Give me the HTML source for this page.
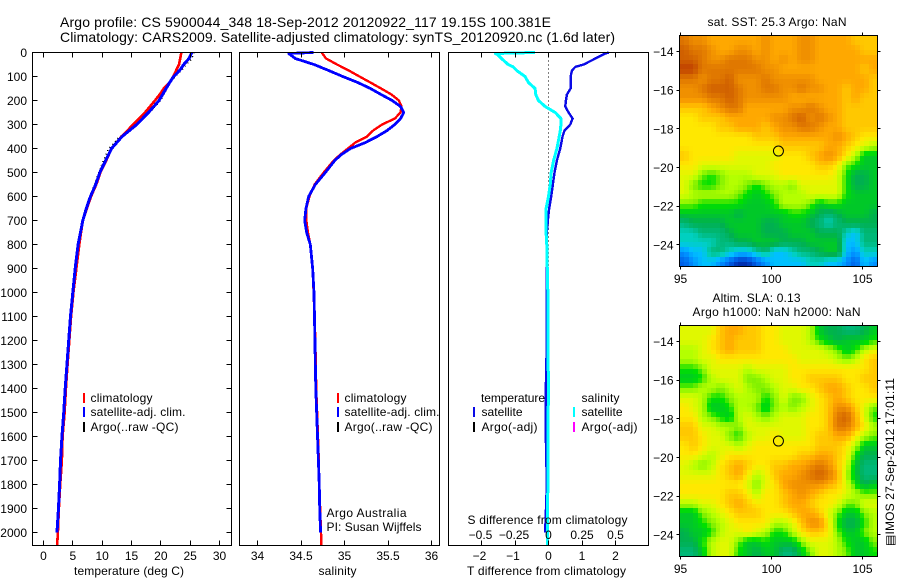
<!DOCTYPE html>
<html>
<head>
<meta charset="utf-8">
<title>Argo profile</title>
<style>
html,body{margin:0;padding:0;background:#fff;}
svg{display:block;}
text{font-family:"Liberation Sans","DejaVu Sans",sans-serif;fill:#000;font-size:12px;}
.t{font-size:14px;}
</style>
</head>
<body>
<svg id="chart" xmlns="http://www.w3.org/2000/svg" width="900" height="580" viewBox="0 0 900 580">
<rect x="0" y="0" width="900" height="580" fill="#fff"/>
<g id="layer-maps"></g>
<g id="layer-lines"></g>
<g id="layer-axes"></g>
<text class="t" x="60" y="27" textLength="491">Argo profile: CS 5900044_348 18-Sep-2012 20120922_117 19.15S 100.381E</text>
<text class="t" x="60" y="42" textLength="555">Climatology: CARS2009. Satellite-adjusted climatology: synTS_20120920.nc (1.6d later)</text>
<text x="74" y="575" textLength="110">temperature (deg C)</text>
<text x="318.5" y="575" textLength="38">salinity</text>
<text x="467" y="575" textLength="159">T difference from climatology</text>
<text x="467.5" y="524" textLength="160">S difference from climatology</text>

<rect x="83" y="393" width="2" height="10" fill="#f00"/>
<rect x="83" y="407" width="2" height="10" fill="#00f"/>
<rect x="83" y="422" width="2" height="10" fill="#000"/>
<text x="90.5" y="402" textLength="62">climatology</text>
<text x="90.5" y="416" textLength="95">satellite-adj. clim.</text>
<text x="90.5" y="431" textLength="88">Argo(..raw -QC)</text>

<rect x="337" y="393" width="2" height="10" fill="#f00"/>
<rect x="337" y="407" width="2" height="10" fill="#00f"/>
<rect x="337" y="422" width="2" height="10" fill="#000"/>
<text x="344.5" y="402" textLength="62">climatology</text>
<text x="344.5" y="416" textLength="95">satellite-adj. clim.</text>
<text x="344.5" y="431" textLength="88">Argo(..raw -QC)</text>
<text x="326.5" y="517" textLength="80">Argo Australia</text>
<text x="326.5" y="531" textLength="95">PI: Susan Wijffels</text>

<text x="481" y="402" textLength="64">temperature</text>
<text x="481.5" y="416" textLength="41">satellite</text>
<text x="481.5" y="431" textLength="56">Argo(-adj)</text>
<text x="581.5" y="402" textLength="38">salinity</text>
<text x="581.5" y="416" textLength="41">satellite</text>
<text x="581.5" y="431" textLength="56">Argo(-adj)</text>
<rect x="473" y="407" width="2" height="10" fill="#0a0ae6"/>
<rect x="473" y="422" width="2" height="10" fill="#000"/>
<rect x="573" y="407" width="2" height="10" fill="#0ff"/>
<rect x="573" y="422" width="2" height="10" fill="#f0f"/>

<text x="707.5" y="26" textLength="139">sat. SST: 25.3 Argo: NaN</text>
<text x="712.5" y="302" textLength="88">Altim. SLA: 0.13</text>
<text x="692.5" y="316" textLength="168">Argo h1000: NaN h2000: NaN</text>
<text transform="translate(894 546) rotate(-90)" x="0" y="0" textLength="168">▤IMOS 27-Sep-2012 17:01:11</text>
</svg>

<script>
// ---------- profile data (depth in m) ----------
var tempDepths = [0,25,50,75,100,125,150,175,200,250,300,350,400,450,500,550,600,650,700,750,800,900,1000,1100,1200,1300,1400,1500,1600,1700,1800,1900,2000,2054];
var tempClim = [23.5,23.3,23.1,22.6,22.1,21.5,20.5,19.8,19.0,17.3,15.3,13.3,11.6,10.7,9.7,9.0,8.1,7.4,6.7,6.4,6.1,5.6,5.1,4.7,4.4,4.1,3.82,3.6,3.25,3.13,2.85,2.62,2.45,2.33];
var tempSat = [25.3,24.8,23.9,23.2,22.2,21.5,20.9,20.3,19.7,17.9,15.9,13.4,11.6,10.6,9.6,8.9,8.0,7.3,6.7,6.3,5.9,5.4,5.0,4.6,4.3,4.0,3.7,3.45,3.15,2.9,2.75,2.55,2.3];
var tempArgo = [25.7,25.3,24.4,23.5,22.5,21.6,21.1,20.5,20.0,18.1,15.8,13.0,11.1,10.2,9.4,8.7,7.9,7.2,6.6,6.2,5.9,5.5,5.1,4.7,4.4,4.1,3.8,3.55,3.25,3.0,2.85,2.65,2.4];

var salDepths = [0,4,25,50,75,100,125,150,175,200,225,250,275,300,325,350,375,400,425,450,500,550,600,650,700,750,800,900,1000,1100,1200,1300,1400,1500,1600,1700,1800,1900,2000,2054];
var salClim = [34.741,34.745,34.788,34.914,35.049,35.172,35.298,35.42,35.54,35.625,35.655,35.644,35.579,35.433,35.33,35.26,35.125,35.04,34.953,34.876,34.761,34.657,34.596,34.561,34.561,34.58,34.607,34.634,34.645,34.655,34.665,34.67,34.675,34.685,34.695,34.705,34.71,34.72,34.73,34.735];
var salSat = [34.645,34.358,34.434,34.65,34.818,34.98,35.152,35.298,35.42,35.548,35.644,35.682,35.644,35.578,35.49,35.375,35.241,35.068,34.965,34.888,34.78,34.665,34.588,34.557,34.542,34.565,34.607,34.634,34.649,34.655,34.66,34.665,34.67,34.68,34.69,34.70,34.71,34.715,34.725];

var diffDepths = [0,4,11,25,50,60,75,100,125,150,175,200,225,250,275,300,325,350,400,450,500,550,600,650,700,750,800,1000,1200,1400,1600,1800,2000,2054];
var diffTemp = [1.80,1.70,1.60,1.40,1.05,0.80,0.70,0.66,0.66,0.66,0.55,0.52,0.50,0.60,0.72,0.65,0.48,0.42,0.35,0.25,0.18,0.13,0.08,0.02,-0.02,-0.05,-0.06,-0.06,-0.05,-0.08,-0.08,-0.05,-0.10];
var diffSal = [-0.100,-0.396,-0.376,-0.351,-0.301,-0.263,-0.238,-0.175,-0.150,-0.100,-0.095,-0.075,-0.025,0.050,0.093,0.093,0.088,0.080,0.063,0.038,0.020,0.013,0,-0.018,-0.018,-0.018,-0.013,-0.005,-0.005,0,-0.005,-0.005,-0.008,-0.008];

// ---------- tick labels ----------
var depthTicks = [0,100,200,300,400,500,600,700,800,900,1000,1100,1200,1300,1400,1500,1600,1700,1800,1900,2000];
var tempTicks = [0,5,10,15,20,25,30];
var salTicks = [34,34.5,35,35.5,36];
var diffTTicks = [-2,-1,0,1,2];
var diffSTicks = [-0.5,-0.25,0,0.25,0.5];
var lonTicks = [95,100,105];
var latTicks = [-14,-16,-18,-20,-22,-24];
var argoLon = [100.381];
var argoLat = [-19.15];

// ---------- map grids: colour level per cell, rows north to south ----------
var sstGrid = [
[16,15,15,14,14,14,14,14,14,15,14,14,14,15,15,14,14,14,14,13,13,13],
[17,16,16,15,14,14,15,15,14,15,14,14,14,15,15,14,14,14,14,14,13,13],
[17,17,16,15,15,16,16,16,15,15,14,15,14,15,15,14,14,14,14,14,14,14],
[18,18,16,16,16,16,16,16,16,15,15,14,14,14,14,14,14,14,14,14,13,14],
[16,16,15,16,16,17,15,15,15,16,15,15,15,15,15,14,14,14,14,14,14,13],
[15,15,16,17,17,17,16,15,15,16,16,15,15,16,15,15,14,14,13,14,14,13],
[15,15,15,16,16,17,16,15,15,15,15,15,14,14,14,14,14,14,13,14,13,13],
[13,13,13,14,15,16,16,14,14,14,14,14,15,15,16,15,14,14,13,13,13,13],
[12,12,13,13,13,14,14,14,14,14,15,15,16,17,15,16,15,14,13,13,13,13],
[12,12,12,12,13,13,14,14,14,13,14,15,15,16,16,15,14,14,13,13,13,13],
[12,12,12,12,12,12,12,12,13,13,13,14,14,14,14,14,14,15,14,13,12,12],
[12,12,12,12,12,12,12,12,12,12,12,13,13,13,13,13,14,14,13,12,11,10],
[13,12,12,12,12,12,11,11,11,11,11,12,12,12,13,14,15,14,12,10,7,7],
[12,12,11,11,11,11,11,11,11,11,12,12,12,12,12,13,13,12,9,8,7,7],
[11,11,9,8,9,10,10,10,11,11,11,12,12,12,12,12,12,11,8,6,6,7],
[11,9,8,8,9,10,10,9,8,9,10,10,9,11,11,11,11,11,8,6,6,7],
[11,10,10,10,10,10,9,8,7,8,9,10,10,10,11,11,11,11,8,7,7,7],
[9,9,8,8,8,8,8,7,7,7,8,10,10,10,9,7,8,8,7,7,7,7],
[7,7,7,7,7,7,6,7,7,7,7,7,8,8,7,6,5,6,7,7,7,6],
[5,6,6,6,6,7,7,7,7,6,6,7,7,7,6,5,4,5,6,6,6,6],
[4,4,5,5,5,6,7,7,7,6,6,6,7,7,7,6,6,6,4,3,5,5],
[4,4,4,4,5,5,6,6,7,7,7,6,6,6,7,7,7,7,3,3,5,5],
[2,3,3,5,5,4,3,3,4,5,3,3,4,5,5,6,7,7,3,2,4,4],
[1,2,3,3,2,1,0,0,1,2,3,3,3,3,4,4,3,3,2,1,3,2]
];
var slaGrid = [
[11,11,11,11,13,14,14,13,13,12,12,11,11,11,10,7,6,6,5,5,6,7],
[11,11,11,12,13,14,13,13,13,12,12,11,11,11,10,8,7,6,7,7,7,8],
[10,10,11,12,13,14,13,13,13,12,12,12,11,11,11,11,10,9,7,8,10,11],
[10,10,11,11,12,12,12,12,12,12,12,12,12,11,11,11,11,10,9,10,12,13],
[8,8,9,11,11,11,11,10,11,11,11,11,12,12,12,12,12,12,12,12,12,13],
[7,7,8,10,11,11,11,9,9,10,11,11,12,12,13,13,13,13,12,12,13,13],
[9,9,10,10,9,10,11,10,9,9,10,11,11,12,12,13,14,14,13,12,12,13],
[11,11,10,8,8,9,10,10,10,8,9,11,9,9,11,12,13,14,13,12,12,12],
[12,11,10,7,7,8,10,10,9,7,9,10,9,10,11,12,13,15,15,13,11,9],
[12,12,10,9,8,7,10,11,10,9,10,11,11,11,12,12,13,16,17,14,11,8],
[13,13,11,11,10,10,9,11,11,11,11,11,11,11,12,12,13,16,16,14,12,10],
[13,13,12,11,11,9,8,10,11,11,12,11,11,11,12,13,13,14,14,12,10,9],
[12,13,12,11,11,11,10,11,12,12,12,12,12,12,12,13,13,13,12,10,7,7],
[12,12,11,10,11,12,12,12,12,12,12,12,12,13,13,14,14,13,12,8,6,6],
[11,10,9,10,12,13,14,13,12,12,13,13,14,14,15,16,15,13,11,7,5,5],
[11,11,11,11,12,13,14,12,10,11,13,14,14,15,16,17,16,14,10,7,5,5],
[12,12,12,12,12,12,12,11,9,11,12,14,15,15,15,15,14,13,11,8,6,7],
[12,12,12,12,12,13,13,12,10,12,12,13,14,15,14,13,12,12,11,10,9,9],
[10,10,11,11,12,13,14,13,12,12,12,13,14,14,13,12,12,11,9,9,11,11],
[7,7,9,10,11,12,13,13,13,12,12,12,13,14,14,13,11,9,7,7,9,10],
[7,7,8,9,10,11,12,12,12,12,10,10,11,13,15,15,12,8,6,6,8,10],
[6,7,7,8,10,11,11,12,11,10,8,8,10,12,13,13,12,9,7,7,9,10],
[6,6,8,10,11,11,9,7,7,8,7,7,7,9,11,11,11,10,8,7,7,9],
[5,5,7,10,11,11,8,7,6,7,7,5,5,7,9,11,11,10,9,7,7,8]
];
var colormap = [[0,48,176],[0,96,232],[0,144,255],[0,192,255],[0,208,192],[0,184,120],[0,176,80],[0,200,40],[0,224,0],[128,240,0],[180,255,0],[224,248,0],[255,232,0],[255,200,0],[255,168,0],[240,144,0],[224,120,0],[208,96,0],[192,64,0]];

// ---------- axis functions ----------
var NS = "http://www.w3.org/2000/svg";
var layerMaps = document.getElementById("layer-maps");
var layerLines = document.getElementById("layer-lines");
var layerAxes = document.getElementById("layer-axes");
function make(tag, props, parent, content) {
  var el = document.createElementNS(NS, tag);
  for (var k in props) { el.setAttribute(k, props[k]); }
  if (content !== undefined) { el.textContent = content; }
  parent.appendChild(el);
  return el;
}
function scale(d0, d1, r0, r1) { return function (v) { return r0 + (v - d0) * (r1 - r0) / (d1 - d0); }; }
var yDepth = scale(0, 2000, 52.5, 532.5);
var xTemp = scale(0, 30, 43.5, 219.5);
var xSal = scale(34, 36, 257.5, 431.5);
var xDiffT = scale(-2, 2, 481.5, 615.5);
var xDiffS = scale(-0.5, 0.5, 481.5, 615.5);
var xLon = scale(95, 105, 680.5, 862.5);
function yLat(top) { return scale(-14, -24, top + 16, top + 209.3); }
var panelTop = 52.5, panelBottom = 545.5;
var mapLeft = 679.5, mapRight = 877.5;
var mapTops = [35.5, 325.5], mapHeight = 231;
var subCols = 44, subRows = 48;
function fmt(v) { return String(v).replace("-", "\u2212"); }
function pts(depths, values, xf) {
  var out = [];
  for (var i = 0; i < values.length; i++) { out.push(xf(values[i]).toFixed(2) + "," + yDepth(depths[i]).toFixed(2)); }
  return out.join(" ");
}
function levelColor(v) {
  var m = Math.max(0, Math.min(colormap.length - 1.001, v));
  var i = Math.floor(m), f = m - i;
  var a = colormap[i], b = colormap[i + 1];
  return "rgb(" + Math.round(a[0] + (b[0] - a[0]) * f) + "," + Math.round(a[1] + (b[1] - a[1]) * f) + "," + Math.round(a[2] + (b[2] - a[2]) * f) + ")";
}
// Raster shading: each drawn cell samples the grid bilinearly (display smoothing only).
function sampleGrid(grid, fx, fy) {
  var rows = grid.length, cols = grid[0].length;
  var gx = Math.max(0, Math.min(cols - 1, fx * cols - 0.5));
  var gy = Math.max(0, Math.min(rows - 1, fy * rows - 0.5));
  var x0 = Math.floor(gx), y0 = Math.floor(gy);
  var x1 = Math.min(cols - 1, x0 + 1), y1 = Math.min(rows - 1, y0 + 1);
  var tx = gx - x0, ty = gy - y0;
  return (grid[y0][x0] * (1 - tx) + grid[y0][x1] * tx) * (1 - ty) + (grid[y1][x0] * (1 - tx) + grid[y1][x1] * tx) * ty;
}

// ---------- heatmaps ----------
function drawMapCells(grid, top, name) {
  for (var r = 0; r < subRows; r++) {
    for (var c = 0; c < subCols; c++) {
      var x0 = Math.round(mapLeft + c * (mapRight - mapLeft) / subCols);
      var x1 = Math.round(mapLeft + (c + 1) * (mapRight - mapLeft) / subCols);
      var y0 = Math.round(top + r * mapHeight / subRows);
      var y1 = Math.round(top + (r + 1) * mapHeight / subRows);
      var v = sampleGrid(grid, (c + 0.5) / subCols, (r + 0.5) / subRows);
      var cell = make("rect", { x: x0, y: y0, width: x1 - x0, height: y1 - y0, fill: levelColor(v), "shape-rendering": "crispEdges" }, layerMaps);
      
      
    }
  }
}
drawMapCells(sstGrid, mapTops[0], 'sst-map-cell');
drawMapCells(slaGrid, mapTops[1], 'sla-map-cell');

// ---------- zero line, difference panel ----------
var zeroLine = make("line", { x1: 548.5, x2: 548.5, y1: panelTop, y2: panelBottom, stroke: "#000", "stroke-width": 1, "stroke-dasharray": "1 3", "shape-rendering": "crispEdges" }, layerLines);



// ---------- profile lines ----------
function lineStyle(color, w) { return { fill: "none", stroke: color, "stroke-width": w, "shape-rendering": "crispEdges", "stroke-linejoin": "round" }; }
function drawLine(depths, values, xf, color, w, dash) {
  var p = lineStyle(color, w);
  p.points = pts(depths, values, xf);
  if (dash) { p["stroke-dasharray"] = dash; }
  return make("polyline", p, layerLines);
}
var l1 = drawLine(tempDepths, tempArgo, xTemp, "#000", 1.4, "1 3");


var l2 = drawLine(tempDepths, tempClim, xTemp, "#f00", 2.6);


var l3 = drawLine(tempDepths, tempSat, xTemp, "#00f", 3);


var l4 = drawLine(salDepths, salClim, xSal, "#f00", 2.4);


var l5 = drawLine(salDepths, salSat, xSal, "#00f", 2.8);


var l6 = drawLine(diffDepths, diffTemp, xDiffT, "#0a0ae6", 2.4);


var l7 = drawLine(diffDepths, diffSal, xDiffS, "#0ff", 3);



// ---------- axis frames ----------
function drawFrame(x0, y0, x1, y1, name) {
  var f = make("rect", { x: x0, y: y0, width: x1 - x0, height: y1 - y0, fill: "none", stroke: "#000", "stroke-width": 1, "shape-rendering": "crispEdges" }, layerAxes);
  
  
}
drawFrame(32.5, panelTop, 231.5, panelBottom, 'temperature-axes-frame');
drawFrame(239.5, panelTop, 439.5, panelBottom, 'salinity-axes-frame');
drawFrame(448.5, panelTop, 648.5, panelBottom, 'difference-axes-frame');
drawFrame(mapLeft, mapTops[0], mapRight, mapTops[0] + mapHeight, 'sst-map-frame');
drawFrame(mapLeft, mapTops[1], mapRight, mapTops[1] + mapHeight, 'sla-map-frame');

function tickLine(x1, y1, x2, y2) {
  var t = make("line", { x1: Math.floor(x1) + 0.5, y1: Math.floor(y1) + 0.5, x2: Math.floor(x2) + 0.5, y2: Math.floor(y2) + 0.5, stroke: "#000", "stroke-width": 1, "shape-rendering": "crispEdges" }, layerAxes);
  
  
}
function tickText(x, y, anchor, label, name) {
  var t = make("text", { x: x, y: y, "text-anchor": anchor }, layerAxes, label);
  
  
}

// depth axis
depthTicks.forEach(function (d) {
  var y = yDepth(d);
  tickLine(32.5, y, 37.5, y);
  tickLine(226.5, y, 231.5, y);
  tickText(27, y + 4.5, "end", String(d), 'depth-tick-label');
});
// bottom axes
tempTicks.forEach(function (v) {
  var x = xTemp(v);
  tickLine(x, panelTop, x, panelTop + 5);
  tickLine(x, panelBottom - 5, x, panelBottom);
  tickText(x, 560, "middle", String(v), 'temperature-tick-label');
});
salTicks.forEach(function (v) {
  var x = xSal(v);
  tickLine(x, panelTop, x, panelTop + 5);
  tickLine(x, panelBottom - 5, x, panelBottom);
  tickText(x, 560, "middle", String(v), 'salinity-tick-label');
});
diffTTicks.forEach(function (v) {
  var x = xDiffT(v);
  tickLine(x, panelTop, x, panelTop + 5);
  tickLine(x, panelBottom - 5, x, panelBottom);
  tickText(x - (v < 0 ? 2 : 0), 560, "middle", fmt(v), 'temperature-difference-tick-label');
});
diffSTicks.forEach(function (v) {
  tickText(xDiffS(v) - (v < 0 ? 1 : 0), 539, "middle", fmt(v), 'salinity-difference-tick-label');
});

// map axes
mapTops.forEach(function (top, idx) {
  var bottom = top + mapHeight;
  var yL = yLat(top);
  lonTicks.forEach(function (v) {
    var x = xLon(v);
    tickLine(x, top - 3, x, top);
    tickLine(x, bottom, x, bottom + 3);
    tickText(x, bottom + 16.5, "middle", String(v), idx === 0 ? 'sst-longitude-label' : 'sla-longitude-label');
  });
  latTicks.forEach(function (v) {
    var y = yL(v);
    tickLine(mapLeft - 3, y, mapLeft, y);
    tickLine(mapRight, y, mapRight + 3, y);
    tickText(673.5, y + 4.5, "end", fmt(v), idx === 0 ? 'sst-latitude-label' : 'sla-latitude-label');
  });
  var marker = make("circle", { cx: xLon(argoLon[0]), cy: yL(argoLat[0]), r: 5, fill: "none", stroke: "#000", "stroke-width": 1 }, layerAxes);
  
  
});
</script>
</body>
</html>
